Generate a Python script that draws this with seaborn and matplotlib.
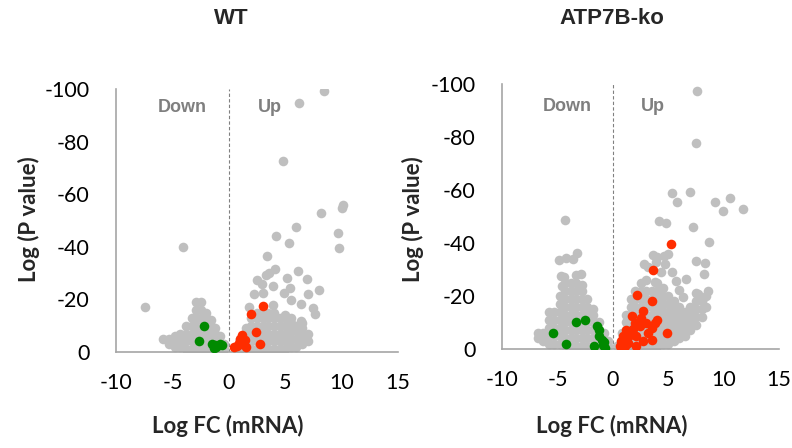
import numpy as np
import pandas as pd
import seaborn as sns
import matplotlib.pyplot as plt

# ---- WT panel ----
# non-significant genes (grey), log FC and log P value
wt_grey_x = [8.4, 6.2, 4.8, 8.2, 10.1, 10.0, 6.0, 4.2, 5.3, 9.7, 9.8, 3.4, -4.1, -7.4,
             4.1, 3.6, 3.3, 6.1, 2.5, 2.9, 5.2, 6.9, 3.9, 5.4, 4.9, 3.0, 2.2, 8.0, 7.0,
             5.5, 6.4, 7.5, 7.6, 6.4, 3.9, 1.8,
             # up cloud
             0.6, 1.0, 1.0, 1.0, 1.5, 1.5, 1.5, 1.5, 2.0, 2.0, 2.0, 2.0, 2.0,
             2.5, 2.5, 2.5, 2.5, 2.5, 2.5, 3.0, 3.0, 3.0, 3.0, 3.0, 3.0,
             3.5, 3.5, 3.5, 3.5, 3.5, 3.5, 4.0, 4.0, 4.0, 4.0, 4.0, 4.0,
             4.5, 4.5, 4.5, 4.5, 4.5, 5.0, 5.0, 5.0, 5.0, 5.0, 5.0,
             5.5, 5.5, 5.5, 5.5, 5.5, 6.0, 6.0, 6.0, 6.0, 6.5, 6.5, 6.5, 6.5, 7.0, 7.0,
             # down cloud
             -5.8, -5.3, -5.3, -4.8, -4.8, -4.8, -4.3, -4.3, -4.3,
             -3.8, -3.8, -3.8, -3.8, -3.3, -3.3, -3.3, -3.3, -3.3,
             -2.9, -2.9, -2.9, -2.9, -2.9, -2.9, -2.9, -2.5, -2.5, -2.5, -2.5, -2.5, -2.5, -2.5,
             -2.0, -2.0, -2.0, -2.0, -2.0, -2.0, -1.6, -1.6, -1.6, -1.6, -1.6,
             -1.2, -1.2, -1.2, -1.2, -0.8, -0.8, -0.8, -0.4, -0.4]
wt_grey_y = [-99.4, -94.5, -72.7, -52.9, -55.8, -54.6, -47.6, -44.2, -41.5, -45.4, -39.6, -36.4, -40.0, -17.1,
             -31.5, -30.2, -29.2, -30.7, -27.5, -26.0, -28.2, -27.8, -25.0, -24.4, -22.6, -22.6, -22.0, -23.7, -22.0,
             -19.7, -18.4, -16.8, -14.3, -11.8, -17.8, -17.1,
             -1, -1, -3, -5, -1, -3, -6, -9, -1, -4, -7, -10, -13,
             -1, -4, -7, -10, -13, -15, -1, -4, -7, -10, -13, -15,
             -1, -4, -7, -10, -13, -15, -1, -4, -7, -10, -13, -15,
             -1, -4, -7, -10, -13, -1, -4, -7, -10, -13, -14,
             -2, -5, -8, -11, -13, -2, -5, -8, -10, -3, -6, -9, -11, -4, -7,
             -5, -3, -5, -2, -4, -6, -2, -4, -7,
             -1, -4, -7, -10, -1, -4, -7, -10, -13,
             -1, -4, -7, -10, -13, -16, -19, -1, -4, -7, -10, -13, -16, -19,
             -1, -4, -7, -10, -13, -15, -1, -4, -7, -10, -12,
             -1, -4, -7, -9, -1, -3, -6, -1, -3]
# significantly down (green) and up (red)
wt_down_x = [-2.2, -2.6, -1.5, -1.2, -1.1, -0.8, -0.6, -1.3]
wt_down_y = [-9.9, -4.1, -3.2, -2.5, -1.9, -3.2, -2.5, -1.5]
wt_up_x = [3.0, 2.0, 2.4, 2.8, 1.2, 1.0, 1.4, 1.5, 0.7, 0.5, 0.9, 1.2]
wt_up_y = [-17.6, -14.6, -7.6, -2.9, -6.6, -5.1, -4.4, -1.9, -2.2, -1.9, -3.4, -3.2]

# ---- ATP7B-ko panel ----
ko_grey_x = [7.6, 7.5, 5.3, 5.8, 7.0, 9.2, 10.6, 9.9, 11.7, 4.2, 4.8, 7.2, 8.7, -4.3,
             3.6, 4.0, 4.6, 5.0, 2.8, 3.2, 3.9, 4.7, 7.5, 8.3, 8.2, 5.3, 4.3, 5.7, 6.6,
             3.0, 3.8, 6.0, 6.3, 8.6, 7.7, 8.0,
             -4.9, -4.2, -3.6, -3.2, -4.7, -4.4, -2.9, -4.6,
             # down cloud
             -6.8, -6.8, -6.3, -6.3, -5.8, -5.8, -5.8, -5.8, -5.8, -5.3, -5.3, -5.3, -5.3, -5.3,
             -4.8, -4.8, -4.8, -4.8, -4.8, -4.8, -4.8,
             -4.3, -4.3, -4.3, -4.3, -4.3, -4.3, -4.3, -4.3, -4.3,
             -3.8, -3.8, -3.8, -3.8, -3.8, -3.8, -3.8, -3.8, -3.8,
             -3.3, -3.3, -3.3, -3.3, -3.3, -3.3, -3.3, -3.3, -3.3, -3.3,
             -2.8, -2.8, -2.8, -2.8, -2.8, -2.8, -2.8, -2.8, -2.8,
             -2.3, -2.3, -2.3, -2.3, -2.3, -2.3, -2.3, -1.8, -1.8, -1.8, -1.8, -1.8, -1.8,
             -1.3, -1.3, -1.3, -1.3, -0.8, -0.8, -0.8, -0.4, -0.4,
             # up cloud
             0.4, 0.8, 0.8, 0.8, 1.2, 1.2, 1.2, 1.2, 1.2,
             1.6, 1.6, 1.6, 1.6, 1.6, 1.6, 1.6, 2.0, 2.0, 2.0, 2.0, 2.0, 2.0, 2.0, 2.0,
             2.5, 2.5, 2.5, 2.5, 2.5, 2.5, 2.5, 2.5, 2.5, 3.0, 3.0, 3.0, 3.0, 3.0, 3.0, 3.0, 3.0,
             3.5, 3.5, 3.5, 3.5, 3.5, 3.5, 3.5, 3.5, 4.0, 4.0, 4.0, 4.0, 4.0, 4.0, 4.0, 4.0, 4.0,
             4.5, 4.5, 4.5, 4.5, 4.5, 4.5, 4.5, 4.5, 5.0, 5.0, 5.0, 5.0, 5.0, 5.0, 5.0,
             5.5, 5.5, 5.5, 5.5, 5.5, 5.5, 6.0, 6.0, 6.0, 6.0, 6.0, 6.5, 6.5, 6.5, 6.5,
             7.0, 7.0, 7.0, 7.0, 7.5, 7.5, 7.5, 7.5, 7.5, 8.0, 8.0, 8.0, 8.4, 8.4]
ko_grey_y = [-97.4, -77.9, -58.8, -55.4, -59.4, -55.4, -57.0, -51.9, -52.9, -48.4, -47.7, -46.1, -40.3, -48.6,
             -35.4, -34.7, -35.2, -35.8, -31.9, -30.8, -32.8, -32.0, -33.3, -32.4, -28.3, -28.9, -28.9, -25.8, -26.5,
             -26.1, -25.4, -22.4, -19.6, -21.7, -20.9, -18.6,
             -33.4, -34.3, -33.9, -36.1, -27.4, -27.1, -28.3, -23.6,
             -4, -6, -3, -6, -2, -5, -8, -11, -14, -2, -5, -8, -11, -14,
             -2, -5, -8, -11, -14, -17, -20,
             -1, -4, -7, -10, -13, -16, -19, -22, -25,
             -1, -4, -7, -10, -13, -16, -19, -22, -25,
             -1, -4, -7, -10, -13, -16, -19, -22, -25, -28,
             -1, -4, -7, -10, -13, -16, -19, -22, -24,
             -1, -4, -7, -10, -13, -16, -19, -1, -4, -7, -10, -13, -15,
             -1, -4, -7, -10, -1, -3, -6, -1, -3,
             -1, -1, -3, -6, -1, -4, -7, -10, -13,
             -1, -4, -7, -10, -13, -16, -19, -1, -4, -7, -10, -13, -16, -19, -22,
             -1, -4, -7, -10, -13, -16, -19, -22, -25, -1, -4, -7, -10, -13, -16, -19, -22,
             -1, -4, -7, -10, -13, -16, -19, -22, -1, -4, -7, -10, -13, -16, -19, -22, -25,
             -2, -5, -8, -11, -14, -17, -20, -23, -2, -5, -8, -11, -14, -17, -20,
             -3, -6, -9, -12, -15, -18, -4, -7, -10, -13, -16, -5, -8, -11, -14,
             -7, -10, -13, -16, -9, -12, -15, -18, -21, -12, -15, -18, -16, -20]
ko_down_x = [-5.4, -4.2, -3.3, -2.5, -1.4, -1.3, -1.3, -1.0, -1.7, -0.9, -0.7, -0.8]
ko_down_y = [-6.0, -2.0, -10.2, -10.8, -8.8, -7.0, -4.8, -3.5, -1.3, -1.5, -0.3, -2.5]
ko_up_x = [5.2, 3.6, 2.2, 3.5, 4.9, 2.7, 4.0, 1.7, 2.0, 2.4, 3.0, 3.5, 1.2, 0.9,
           0.7, 0.6, 1.4, 2.1, 2.7, 3.5, 3.2, 1.5, 1.1, 1.8, 2.5, 3.8, 2.1]
ko_up_y = [-39.7, -29.9, -20.4, -18.0, -6.0, -14.2, -11.1, -12.3, -9.8, -8.5, -9.8, -7.9, -7.3, -4.8,
           -2.9, -1.3, -2.3, -4.8, -2.9, -3.5, -6.0, -5.4, -1.0, -7.5, -11.7, -9.8, -1.0]

x_ticks = [-10, -5, 0, 5, 10, 15]
y_ticks = [0, -20, -40, -60, -80, -100]

grey = "#bfbfbf"
green = "#008a00"
red = "#ff2d00"
axis_grey = "#a6a6a6"

sns.set_style("white")
plt.rcParams["font.family"] = ["Lato", "DejaVu Sans"]
arial = ["Liberation Sans", "DejaVu Sans"]

fig = plt.figure(figsize=(7.92, 4.48), dpi=100)
ax1 = fig.add_axes([0.1465, 0.2143, 0.356, 0.587])
ax2 = fig.add_axes([0.634, 0.221, 0.3497, 0.5915])


def panel(ax, gx, gy, dx, dy, ux, uy, label_y):
    sns.scatterplot(x=gx, y=gy, ax=ax, color=grey, s=48, linewidth=0, zorder=2)
    sns.scatterplot(x=dx, y=dy, ax=ax, color=green, s=48, linewidth=0, zorder=3)
    sns.scatterplot(x=ux, y=uy, ax=ax, color=red, s=48, linewidth=0, zorder=3)
    ax.axvline(0, ymin=0, ymax=1, color="#808080", linestyle=(0, (3, 2)), linewidth=0.8, zorder=1)
    ax.set_xlim(-10, 15)
    ax.set_ylim(0, -100)
    ax.set_xticks(x_ticks)
    ax.set_yticks(y_ticks)
    ax.set_xticklabels([str(t) for t in x_ticks])
    ax.set_yticklabels([str(t) for t in y_ticks])
    ax.tick_params(axis="both", direction="out", length=5, width=1.2, color=axis_grey,
                   labelsize=15.5, labelcolor="black")
    ax.tick_params(axis="x", pad=10)
    ax.tick_params(axis="y", pad=14)
    for side in ["top", "right"]:
        ax.spines[side].set_visible(False)
    for side in ["left", "bottom"]:
        ax.spines[side].set_color(axis_grey)
        ax.spines[side].set_linewidth(1.2)
    ax.set_xlabel("")
    ax.set_ylabel("")
    ax.text(-4.15, label_y, "Down", ha="center", va="center", fontsize=13, fontweight="bold",
            color="#7f7f7f", family=arial)
    ax.text(3.6, label_y, "Up", ha="center", va="center", fontsize=13, fontweight="bold",
            color="#7f7f7f", family=arial)


panel(ax1, wt_grey_x, wt_grey_y, wt_down_x, wt_down_y, wt_up_x, wt_up_y, -93)
panel(ax2, ko_grey_x, ko_grey_y, ko_down_x, ko_down_y, ko_up_x, ko_up_y, -91.5)

for cx, title in [(0.292, "WT"), (0.772, "ATP7B-ko")]:
    fig.text(cx, 0.958, title, ha="center", va="center", fontsize=16, fontweight="bold", family=arial)
for cx in [0.287, 0.773]:
    fig.text(cx, 0.05, "Log FC (mRNA)", ha="center", va="center", fontsize=16, fontweight="bold")
for cx in [0.036, 0.522]:
    fig.text(cx, 0.51, "Log (P value)", ha="center", va="center", rotation=90, fontsize=16, fontweight="bold")

fig.savefig("out.png", dpi=100)
